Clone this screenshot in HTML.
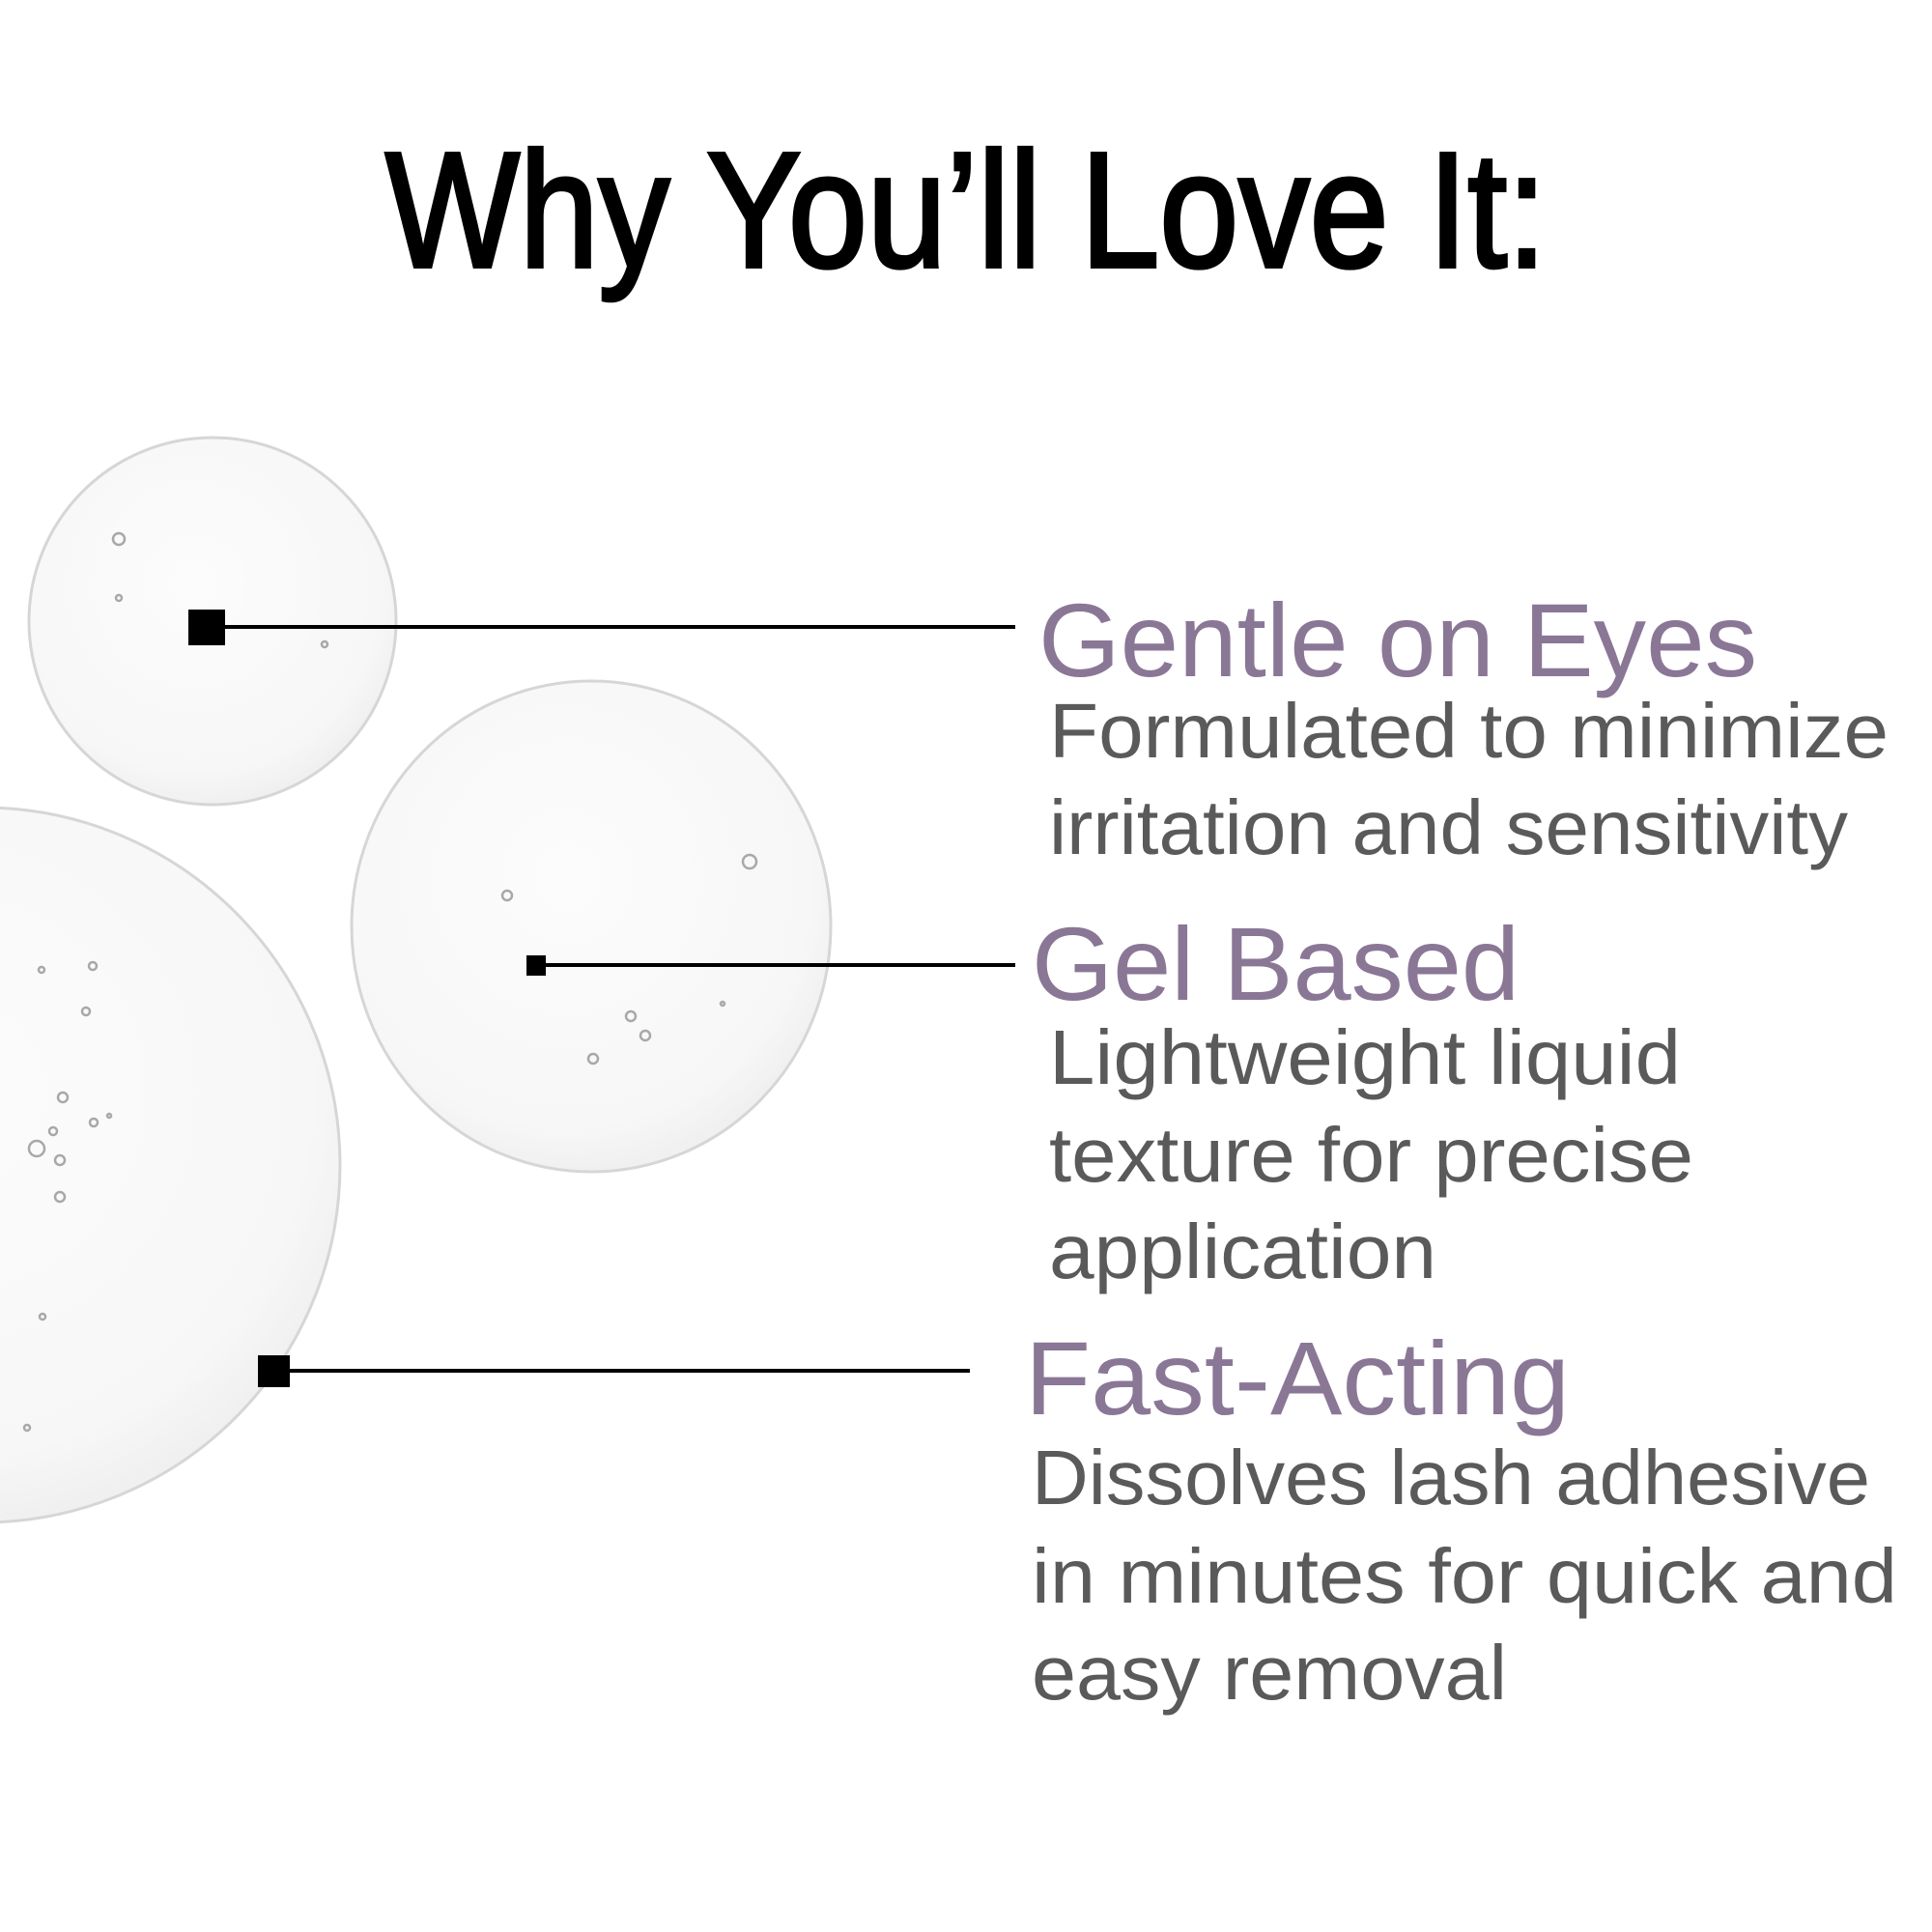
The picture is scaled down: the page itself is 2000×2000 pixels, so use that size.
<!DOCTYPE html>
<html><head><meta charset="utf-8"><style>
html,body{margin:0;padding:0;background:#fff;}
svg{display:block;}
.t{font-family:"Liberation Sans",sans-serif;}
</style></head><body>
<svg width="2000" height="2000" viewBox="0 0 2000 2000" xmlns="http://www.w3.org/2000/svg">
<defs>
<radialGradient id="g" cx="0.45" cy="0.4" r="0.6">
<stop offset="0" stop-color="#fcfcfc"/><stop offset="0.85" stop-color="#f7f7f7"/><stop offset="1" stop-color="#f0f0f0"/>
</radialGradient>
</defs>
<rect width="2000" height="2000" fill="#fff"/>
<text class="t" x="399" y="276" font-size="170" font-weight="400" fill="#000" stroke="#000" stroke-width="4" textLength="1202" lengthAdjust="spacingAndGlyphs">Why You’ll Love It:</text>

<g stroke="#d6d6d6" stroke-width="3" fill="url(#g)">
<circle cx="220" cy="643" r="190"/>
<ellipse cx="612" cy="959" rx="248" ry="254"/>
<circle cx="-18" cy="1206" r="370"/>
</g>
<g fill="none" stroke="#a8a8a8" stroke-width="2.5">
<circle cx="123" cy="558" r="6"/><circle cx="123" cy="619" r="3"/><circle cx="336" cy="667" r="3"/>
<circle cx="776" cy="892" r="7"/><circle cx="525" cy="927" r="5"/><circle cx="653" cy="1052" r="5"/><circle cx="668" cy="1072" r="5"/><circle cx="614" cy="1096" r="5"/><circle cx="748" cy="1039" r="2"/>
<circle cx="43" cy="1004" r="3"/><circle cx="96" cy="1000" r="4"/><circle cx="89" cy="1047" r="4"/><circle cx="65" cy="1136" r="5"/><circle cx="97" cy="1162" r="4"/><circle cx="113" cy="1155" r="2"/><circle cx="55" cy="1171" r="4"/><circle cx="38" cy="1189" r="8"/><circle cx="62" cy="1201" r="5"/><circle cx="62" cy="1239" r="5"/><circle cx="44" cy="1363" r="3"/><circle cx="28" cy="1478" r="3"/>
</g>

<g stroke="#000" stroke-width="4">
<line x1="213" y1="649" x2="1051" y2="649"/>
<line x1="554" y1="999" x2="1051" y2="999"/>
<line x1="282" y1="1419" x2="1004" y2="1419"/>
</g>
<rect x="195" y="631" width="38" height="37" fill="#000"/>
<rect x="545" y="989" width="20" height="21" fill="#000"/>
<rect x="267" y="1403" width="33" height="33" fill="#000"/>

<g class="t" fill="#8a7796" font-size="108">
<text x="1075" y="700" textLength="744" lengthAdjust="spacingAndGlyphs">Gentle on Eyes</text>
<text x="1068" y="1035" textLength="505" lengthAdjust="spacingAndGlyphs">Gel Based</text>
<text x="1061" y="1464" textLength="564" lengthAdjust="spacingAndGlyphs">Fast-Acting</text>
</g>
<g class="t" fill="#5a5a5a" font-size="80">
<text x="1086" y="784" textLength="869" lengthAdjust="spacingAndGlyphs">Formulated to minimize</text>
<text x="1086" y="884" textLength="827" lengthAdjust="spacingAndGlyphs">irritation and sensitivity</text>
<text x="1086" y="1122" textLength="654" lengthAdjust="spacingAndGlyphs">Lightweight liquid</text>
<text x="1086" y="1223" textLength="667" lengthAdjust="spacingAndGlyphs">texture for precise</text>
<text x="1086" y="1323" textLength="401" lengthAdjust="spacingAndGlyphs">application</text>
<text x="1068" y="1557" textLength="868" lengthAdjust="spacingAndGlyphs">Dissolves lash adhesive</text>
<text x="1068" y="1659" textLength="896" lengthAdjust="spacingAndGlyphs">in minutes for  quick and</text>
<text x="1068" y="1759" textLength="492" lengthAdjust="spacingAndGlyphs">easy removal</text>
</g>
</svg>
</body></html>
